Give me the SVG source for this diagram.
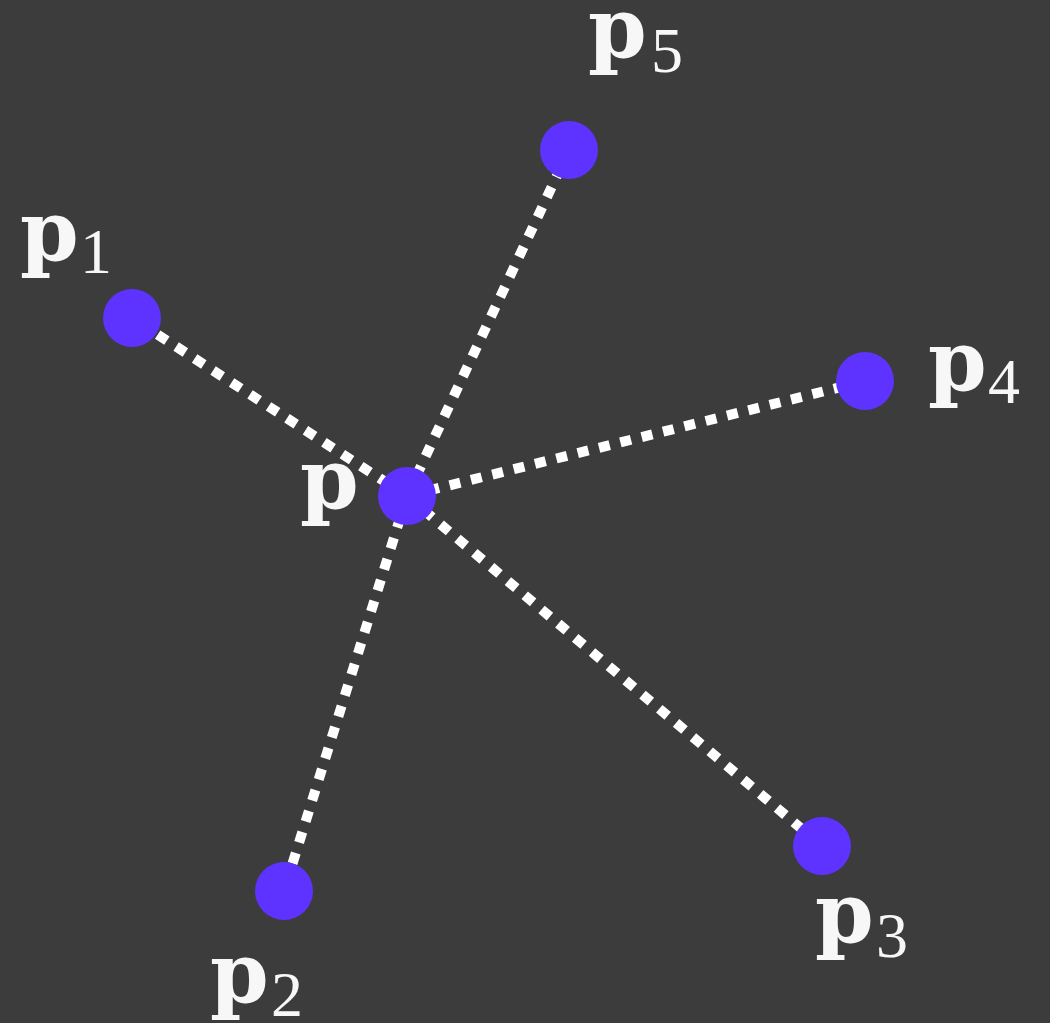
<svg xmlns="http://www.w3.org/2000/svg" width="1050" height="1023" viewBox="0 0 1050 1023">
<style>
.bg{fill:#3c3c3c}
.edge{stroke:#ffffff;stroke-width:10;stroke-dasharray:11 11;fill:none}
.pt{fill:#5f33ff}
.lbl{fill:#f7f7f7}
.main{font-family:"DejaVu Serif",serif;font-weight:bold;font-size:84px}
.sub{font-family:"Liberation Serif",serif;font-size:64px}
</style>
<rect class="bg" x="0" y="0" width="1050" height="1023"/>
<g id="connectors">
<line class="edge" x1="407" y1="496" x2="132" y2="318"/>
<line class="edge" x1="407" y1="496" x2="569" y2="150"/>
<line class="edge" x1="407" y1="496" x2="865" y2="381"/>
<line class="edge" x1="407" y1="496" x2="822" y2="846"/>
<line class="edge" x1="407" y1="496" x2="284" y2="891"/>
</g>
<g id="p"><circle class="pt" cx="407" cy="496" r="29"/><text class="lbl main" x="300" y="508">p</text></g>
<g id="p1"><circle class="pt" cx="132" cy="318" r="29"/><text class="lbl"><tspan class="main" x="20" y="260">p</tspan><tspan class="sub" x="80" y="273">1</tspan></text></g>
<g id="p5"><circle class="pt" cx="569" cy="150" r="29"/><text class="lbl"><tspan class="main" x="588" y="57">p</tspan><tspan class="sub" x="651" y="72">5</tspan></text></g>
<g id="p4"><circle class="pt" cx="865" cy="381" r="29"/><text class="lbl"><tspan class="main" x="928" y="390">p</tspan><tspan class="sub" x="988" y="403">4</tspan></text></g>
<g id="p3"><circle class="pt" cx="822" cy="846" r="29"/><text class="lbl"><tspan class="main" x="815" y="942">p</tspan><tspan class="sub" x="876" y="957">3</tspan></text></g>
<g id="p2"><circle class="pt" cx="284" cy="891" r="29"/><text class="lbl"><tspan class="main" x="210" y="1002">p</tspan><tspan class="sub" x="271" y="1016">2</tspan></text></g>
</svg>
